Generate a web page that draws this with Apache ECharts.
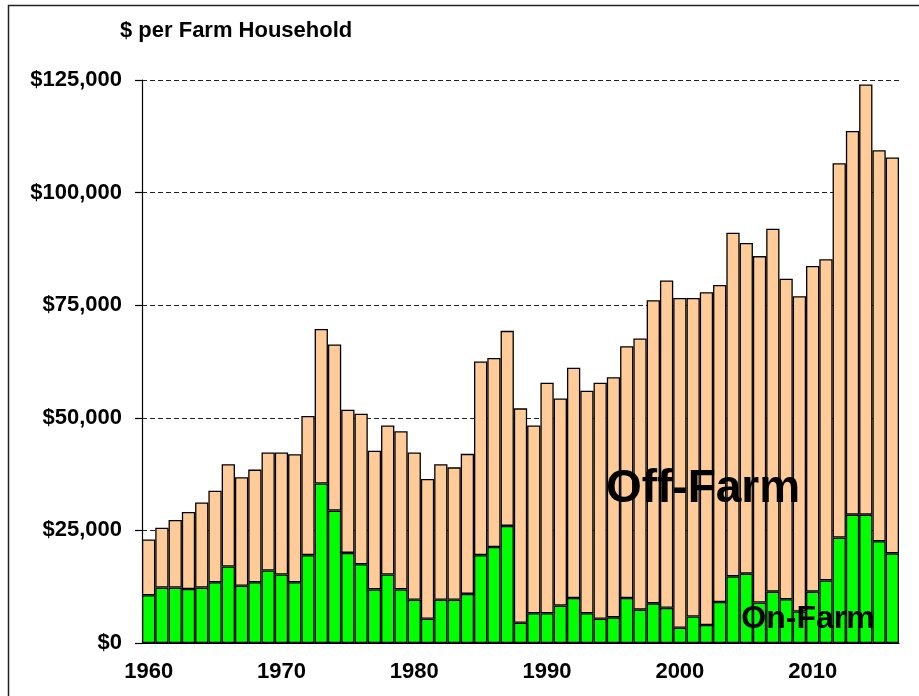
<!DOCTYPE html>
<html>
<head>
<meta charset="utf-8">
<script src="https://cdn.jsdelivr.net/npm/echarts@6/dist/echarts.min.js"></script>
<style>
  html, body { margin: 0; padding: 0; background: #fff; }
  #chart { width: 919px; height: 696px; }
</style>
</head>
<body>
<div id="chart"></div>
<script>
// years shown as bars
var years = [
  1960, 1961, 1962, 1963, 1964, 1965, 1966, 1967, 1968, 1969,
  1970, 1971, 1972, 1973, 1974, 1975, 1976, 1977, 1978, 1979,
  1980, 1981, 1982, 1983, 1984, 1985, 1986, 1987, 1988, 1989,
  1990, 1991, 1992, 1993, 1994, 1995, 1996, 1997, 1998, 1999,
  2000, 2001, 2002, 2003, 2004, 2005, 2006, 2007, 2008, 2009,
  2010, 2011, 2012, 2013, 2014, 2015, 2016
]

// income from farming, $ per household
var onFarm = [
  10600, 12300, 12300, 12000, 12300, 13500, 17000, 12700, 13500, 16100,
  15200, 13500, 19500, 35400, 29400, 20000, 17500, 11900, 15200, 11900,
  9600, 5400, 9600, 9600, 10900, 19500, 21300, 26000, 4500, 6600,
  6600, 8300, 10000, 6600, 5400, 5700, 10000, 7400, 8800, 7800,
  3400, 5900, 4000, 9100, 14800, 15400, 9000, 11400, 9700, 7000,
  11400, 13900, 23400, 28500, 28500, 22600, 19900
]
// income from off-farm sources, $ per household
var offFarm = [
  12400, 13300, 15000, 17100, 18900, 20300, 22700, 24100, 25000, 26200,
  27100, 28400, 30900, 34300, 36900, 31800, 33400, 30800, 33100, 35100,
  32700, 31000, 30100, 29400, 31100, 43000, 42000, 43300, 47600, 41700,
  51200, 46000, 51100, 49400, 52400, 53300, 55900, 60200, 67300, 72700,
  73200, 70700, 73900, 70400, 76300, 73400, 76900, 80600, 71200, 70000,
  72300, 71300, 83100, 85200, 95500, 86800, 87900
]

var font = 'Liberation Sans'

function money (v) {
  return '$' + String(v).replace(/\B(?=(\d{3})+(?!\d))/g, ',')
}

var chart = echarts.init(document.getElementById('chart'))
chart.setOption({
  animation: false,
  grid: { left: 142, right: 20, top: 80, bottom: 53 },
  xAxis: {
    type: 'category',
    data: years,
    axisLine: { lineStyle: { color: '#000', width: 1.2 } },
    // ticks on the bar edges every 5 years, labels every 10
    axisTick: {
      length: 9,
      interval: function (i, v) { return Number(v) % 5 === 0 },
      lineStyle: { color: '#000', width: 1.2 }
    },
    axisLabel: {
      interval: function (i, v) { return Number(v) % 10 === 0 },
      margin: 18,
      fontFamily: font,
      fontWeight: 'bold',
      fontSize: 22,
      color: '#000'
    }
  },
  yAxis: {
    type: 'value',
    min: 0,
    max: 125000,
    interval: 25000,
    axisLine: { show: true, lineStyle: { color: '#000', width: 1.2 } },
    axisTick: { show: true, length: 7, lineStyle: { color: '#000', width: 1.2 } },
    axisLabel: {
      formatter: money,
      margin: 20,
      fontFamily: font,
      fontWeight: 'bold',
      fontSize: 22,
      color: '#000'
    },
    splitLine: {
      lineStyle: { color: '#222', type: [5, 3], width: 1.2 }
    }
  },
  series: [
    {
      name: 'On-Farm',
      type: 'bar',
      stack: 'income',
      barCategoryGap: '0%',
      data: onFarm,
      itemStyle: { color: '#00ff00', borderColor: '#000', borderWidth: 1.3 }
    },
    {
      name: 'Off-Farm',
      type: 'bar',
      stack: 'income',
      barCategoryGap: '0%',
      data: offFarm,
      itemStyle: { color: '#ffcc99', borderColor: '#000', borderWidth: 1.3 }
    }
  ],
  graphic: [
    // frame
    { type: 'line', shape: { x1: 8.5, y1: 5, x2: 8.5, y2: 696 }, style: { stroke: '#222', lineWidth: 1.5 } },
    { type: 'line', shape: { x1: 8, y1: 5.5, x2: 919, y2: 5.5 }, style: { stroke: '#222', lineWidth: 1.5 } },
    {
      type: 'text', x: 120, y: 31, z: 10,
      style: { text: '$ per Farm Household', fontFamily: font, fontWeight: 'bold', fontSize: 22, fill: '#000', verticalAlign: 'middle' }
    },
    {
      type: 'text', x: 703, y: 489, z: 10,
      style: { text: 'Off-Farm', fontFamily: font, fontWeight: 'bold', fontSize: 46, fill: '#000', align: 'center', verticalAlign: 'middle' }
    },
    {
      type: 'text', x: 808, y: 619, z: 10,
      style: { text: 'On-Farm', fontFamily: font, fontWeight: 'bold', fontSize: 32, fill: '#000', align: 'center', verticalAlign: 'middle' }
    }
  ]
})
</script>
</body>
</html>
